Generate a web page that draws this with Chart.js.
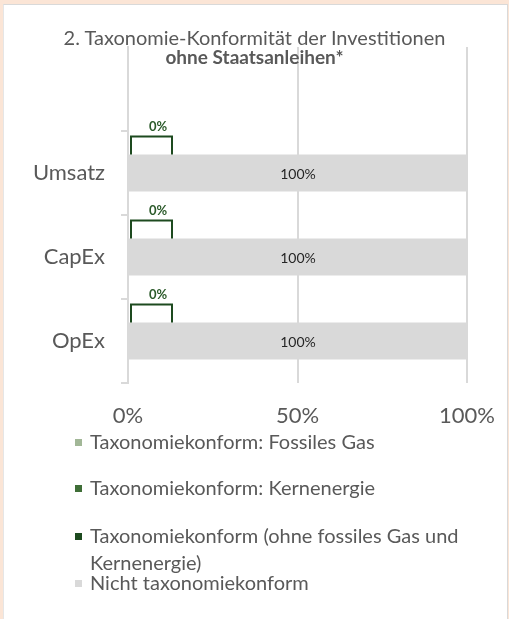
<!DOCTYPE html>
<html>
<head>
<meta charset="utf-8">
<script src="https://cdn.jsdelivr.net/npm/chart.js@4"></script>
<style>
  html, body { margin: 0; padding: 0; }
  body { width: 509px; height: 619px; background: #fbe5d6; position: relative; overflow: hidden; font-family: Lato, sans-serif; }
  #frame { position: absolute; left: 3px; top: 4px; right: 1px; bottom: 0; background: #fff; border-top: 1px solid #d9d9d9; border-left: 1px solid #e6e6e6; border-right: 1px solid #d9d9d9; }
  #chartBox { position: absolute; left: 0; top: 0; width: 509px; height: 430px; }
  #title { position: absolute; left: 0; top: 28px; width: 509px; text-align: center; color: #595959; font-size: 20px; line-height: 19px; }
  #title b { font-weight: bold; font-size: 19px; }
  #legend { position: absolute; left: 75px; top: 428px; margin: 0; padding: 0; list-style: none; color: #595959; font-size: 20px; line-height: 27px; }
  #legend li { display: flex; align-items: flex-start; width: 390px; }
  #legend li:nth-child(1) { margin-bottom: 19px; }
  #legend li:nth-child(2) { margin-bottom: 21px; }
  #legend li:nth-child(3) { margin-bottom: -7px; }
  #legend .sw { flex: none; width: 7px; height: 7px; margin: 11px 8px 0 0; }
</style>
</head>
<body>
<div id="frame"></div>
<div id="chartBox"><canvas id="taxChart" width="509" height="430"></canvas></div>
<div id="title">2. Taxonomie-Konformität der Investitionen<br><b>ohne Staatsanleihen*</b></div>
<ul id="legend"></ul>
<script>
// categories (top to bottom) and shares in percent
var categories = ["Umsatz", "CapEx", "OpEx"];
var fossilGas = [0, 0, 0];
var nuclear = [0, 0, 0];
var alignedOther = [0, 0, 0];
var notAligned = [100, 100, 100];
var xTicks = [0, 50, 100];

var seriesNames = [
    "Taxonomiekonform: Fossiles Gas",
    "Taxonomiekonform: Kernenergie",
    "Taxonomiekonform (ohne fossiles Gas und Kernenergie)",
    "Nicht taxonomiekonform"
];
var seriesColors = ["#a2b797", "#3f6e37", "#1d4a1f", "#d9d9d9"];

// the source chart has an empty slot above the first category
function withGap(arr) {
    return [null].concat(arr);
}

var labelPlugin = {
    id: "barLabels",
    afterDatasetsDraw: function (chart) {
        var ctx = chart.ctx;
        ctx.save();
        ctx.textAlign = "center";
        ctx.textBaseline = "middle";

        // value labels inside grey bars
        var greyMeta = chart.getDatasetMeta(3);
        greyMeta.data.forEach(function (el, i) {
            var v = chart.data.datasets[3].data[i];
            if (v === null) return;
            ctx.fillStyle = "#262626";
            ctx.font = "14px Lato";
            ctx.fillText(v + "%", (el.x + el.base) / 2, el.y + 1);
        });

        // callout labels for the aligned share
        var meta = chart.getDatasetMeta(2);
        meta.data.forEach(function (el, i) {
            var v = chart.data.datasets[2].data[i];
            if (v === null) return;
            var top = el.y - el.height / 2;
            var x0 = el.base + 3;
            var x1 = x0 + 41;
            var yTop = top - 18;
            ctx.strokeStyle = seriesColors[2];
            ctx.lineWidth = 2;
            ctx.beginPath();
            ctx.moveTo(x0, top);
            ctx.lineTo(x0, yTop);
            ctx.lineTo(x1, yTop);
            ctx.lineTo(x1, top);
            ctx.stroke();
            ctx.fillStyle = "#2b5a2a";
            ctx.font = "bold 13px Lato";
            ctx.fillText(v + "%", x0 + 27, yTop - 10);
        });
        ctx.restore();
    }
};

function renderTaxChart() {
    var ctx = document.getElementById("taxChart").getContext("2d");
    var seriesData = [fossilGas, nuclear, alignedOther, notAligned];

    var chart = new Chart(ctx, {
        type: "bar",
        data: {
            labels: withGap(categories),
            datasets: seriesData.map(function (d, i) {
                return {
                    label: seriesNames[i],
                    data: withGap(d),
                    backgroundColor: seriesColors[i],
                    borderWidth: 0,
                    grouped: false,
                    categoryPercentage: 1,
                    barPercentage: 0.44
                };
            })
        },
        options: {
            indexAxis: "y",
            responsive: false,
            animation: false,
            layout: { padding: { top: 47, right: 42, left: 0, bottom: 0 } },
            plugins: {
                legend: { display: false },
                title: { display: false },
                tooltip: { enabled: false }
            },
            scales: {
                x: {
                    min: 0,
                    max: 100,
                    afterBuildTicks: function (scale) {
                        scale.ticks = xTicks.map(function (v) { return { value: v }; });
                    },
                    afterFit: function (scale) {
                        scale.height = 47;
                        scale.paddingLeft = 0;
                        scale.paddingRight = 0;
                    },
                    grid: { color: "#d9d9d9", lineWidth: 2, drawTicks: false },
                    border: { display: false },
                    ticks: {
                        padding: 20,
                        color: "#595959",
                        font: { family: "Lato", size: 22 },
                        callback: function (v) { return v + "%"; }
                    }
                },
                y: {
                    offset: true,
                    afterFit: function (scale) { scale.width = 128; },
                    grid: { offset: true, drawOnChartArea: false, tickLength: 7, color: "#d9d9d9", lineWidth: 2 },
                    border: { color: "#d9d9d9", width: 2 },
                    ticks: {
                        padding: 16,
                        color: "#595959",
                        font: { family: "Lato", size: 22 }
                    }
                }
            }
        },
        plugins: [labelPlugin]
    });

    // legend list built from the chart's datasets
    var ul = document.getElementById("legend");
    chart.data.datasets.forEach(function (ds) {
        var li = document.createElement("li");
        var sw = document.createElement("span");
        sw.className = "sw";
        sw.style.background = ds.backgroundColor;
        var tx = document.createElement("span");
        tx.textContent = ds.label;
        li.appendChild(sw);
        li.appendChild(tx);
        ul.appendChild(li);
    });
}

document.addEventListener("DOMContentLoaded", function () {
    renderTaxChart();
});
</script>
</body>
</html>
